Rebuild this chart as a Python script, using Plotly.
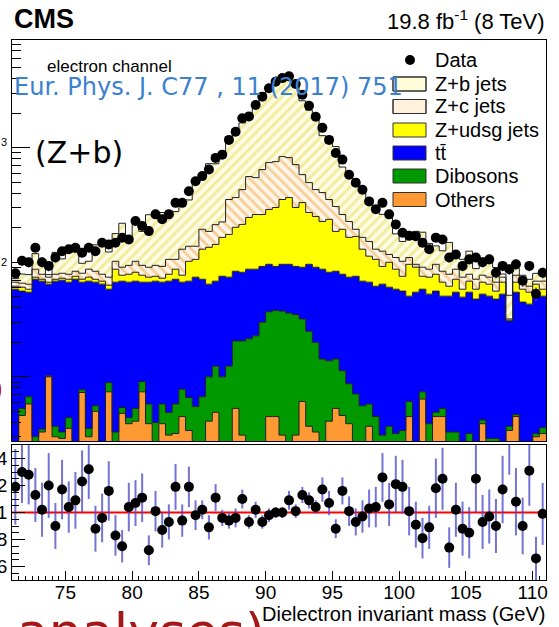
import numpy as np
import plotly.graph_objects as go

# ---------------- data ----------------
bin_low, bin_width, n_bins = 71.0, 0.5, 80

others = [0,4.6,5.8,0,3.3,10,3.0,2.9,3.55,0, 7.3,3.0,5.0,0,7.4,0,4.8,3.9,4.1,7.4,
          3.9,0,3.9,3.1,3.2,4.5,3.4,0,0,4.1, 4.9,0,0,5.3,3.1,0,0,0,4.5,4.5,
          3.1,0,3.1,6.1,3.7,3.3,0,4.1,5.3,4.6, 3.9,0,0,3.7,0,0,0,0,0,4.5,
          0,6.4,0,4.5,4.5,0,0,0,0,0, 3.9,0,0,0,3.4,4.5,0,0,3.0,3.2]
dibosons = [0,0.7,0.9,3.0,0.2,0.2,0.7,0.4,0.85,0, 0.4,0.55,0.6,0,1.5,3.3,0.6,0.5,1.2,1.7,
            1.9,4.0,1.9,1.8,2.6,3.3,3.2,5.5,6.7,5.9, 7.5,10,12.4,15.3,17.5,21.5,22.8,30,32.5,33.5,
            34.4,36,31.9,25.9,21.3,16.7,14.3,9.7,9.0,6.7, 4.8,7.1,5.6,2.1,4.5,3.1,3.7,3.2,3.4,1.6,
            0,1.0,3.9,0.4,0.8,3.3,3.3,0,3.2,0, 0.3,2.9,2.9,0,0.3,0.2,0,0,0.2,0.4]
ttbar = [58.2,50.7,48.1,68.1,64.9,54.2,64.7,66.4,62.6,71.1, 59.3,64.9,61.4,64.4,49.3,63.7,63.0,62.6,63.1,57.9,
         61.2,64.4,61.2,63.5,65.3,59.2,61.8,68.6,64.4,54.4, 56.0,65.5,61.7,62.9,61.2,65.5,64.2,62.0,59.0,54.0,
         58.5,60.0,57.0,58.5,71.0,70.5,72.7,68.0,69.2,67.3, 65.4,68.4,62.8,61.2,57.3,61.3,56.9,55.0,52.6,44.5,
         54.8,50.8,48.8,51.1,45.3,47.3,51.5,49.6,51.6,47.7, 48.5,47.7,44.8,52.7,27.0,50.1,44.9,43.1,49.5,47.0]
z_udsg = [3.6,4.6,3.4,3.0,2.7,2.6,2.7,2.9,4.1,4.4, 4.1,5.7,4.1,4.0,4.9,20,8.7,11.6,13.4,10.1,
          7.1,7.1,5.6,10.2,15.9,10.1,33.6,31.9,58.9,70.6, 74.6,89.5,100.9,118.5,132.2,159,174,169,193,209,
          257,271,209,241.5,176,160.5,140,155.2,102.5,115.4, 90.9,92.5,61.6,46,44.2,27.6,39.4,28.8,19.5,45.4,
          35.7,17.3,21.4,22.6,16.4,11.2,16.3,8.6,13.6,10.5, 14.3,13.8,8.3,14.3,0.5,12.2,13.3,11.7,11.7,7.6]
z_c = [5.2,5.1,6.2,12.9,7.5,7.1,7.5,7.6,7.5,8.0, 9.1,12.9,12.4,10.2,11.0,15,13.4,15.4,20.2,16.9,
       16.4,18.5,19.4,27.4,19,52.9,36,32,64,51, 70,60,178,165,217,314,287,383,452,455,
       483,452,411,250,224,180,179,116,121,67, 62,26,35,39,24,33,17,23,26.5,14,
       5.5,15,12.9,17.4,16.5,16.8,15.9,15.9,10.2,12.9, 10.1,9.7,11,7.1,0.8,10.1,8.8,7,4,10.2]
z_b = [5,13.3,13.6,32,19.4,3.9,43.4,26.8,46.4,39.5, 17.8,15,58.5,75.4,48.9,76,128.5,58,112,92,
       169.5,165,180,176,171,221,212,382,360,539, 511,692,892,1071,1214,1451,1766,2356,2626,3014,
       3214,3034,2852,1984,1632,1357,868,740,716,417, 347,338,278,178,149,137,130,67,50,58,
       90,92.5,59,43,42.5,70.4,28,32,46.4,16.9, 30.9,35,23,4.9,19.5,11.9,10,9.2,11.6,13.6]
data = [80,103,100,134,100,93,110,125,130,134, 121,134,125,148,143,148,164,158,229,207,
        187,262,237,262,330,330,417,510,565,645, 815,870,1170,1380,1810,1870,2360,2790,3300,3770,
        4050,4200,3600,2900,2320,1860,1490,1170,900,787, 580,495,430,340,290,330,262,214,181,170,
        169,148,130,164,158,110,117,93,106,110, 100,106,81,93,87,96,69,93,53,81]
ratio = [1.19,1.30,1.28,1.13,1.02,1.20,0.90,1.17,1.04,1.09, 1.23,1.32,0.88,0.96,1.16,0.83,0.75,1.04,1.07,1.11,
         0.72,1.01,0.87,0.93,1.19,0.94,1.19,0.98,1.02,0.89, 1.11,0.96,0.94,0.96,1.10,0.93,1.02,0.93,0.98,1.00,
         1.00,1.09,1.01,1.13,1.09,1.04,1.17,1.07,0.88,1.16, 1.01,0.93,0.97,1.03,1.04,1.26,1.06,1.21,1.19,1.01,
         0.91,0.81,0.89,1.18,1.25,0.74,1.02,0.88,0.85,1.25, 0.93,0.97,0.90,1.17,1.70,1.08,0.90,1.31,0.66,0.99]
ratio_err = [0.28,0.23,0.22,0.20,0.20,0.24,0.17,0.22,0.19,0.21, 0.23,0.22,0.17,0.18,0.22,0.15,0.12,0.18,0.17,0.18,
             0.11,0.15,0.13,0.13,0.17,0.12,0.15,0.11,0.07,0.09, 0.10,0.06,0.06,0.07,0.07,0.05,0.06,0.05,0.05,0.04,
             0.04,0.07,0.05,0.06,0.06,0.05,0.09,0.09,0.07,0.10, 0.11,0.10,0.12,0.14,0.15,0.18,0.16,0.21,0.20,0.18,
             0.17,0.15,0.16,0.22,0.23,0.15,0.20,0.20,0.19,0.25, 0.20,0.20,0.20,0.25,0.42,0.25,0.21,0.26,0.16,0.23]
x_ticks = [75, 80, 85, 90, 95, 100, 105, 110]
ratio_ticks = [0.6, 0.8, 1.0, 1.2, 1.4]
ratio_ticktext = ["0.6", "0.8", "1", "1.2", "1.4"]

# ---------------- derived ----------------
edges = bin_low + bin_width * np.arange(n_bins + 1)
centers = edges[:-1] + bin_width / 2
data_a = np.array(data, float)

W, H = 559, 627
ML, MR, MT, MB = 12, 13, 40, 47
PW, PH = W - ML - MR, H - MT - MB

def px(x):
    return (x - ML) / PW

def py(y):
    return (H - MB - y) / PH

fig = go.Figure()

def step(vals):
    v = np.maximum(np.asarray(vals, float), 1.0)
    return np.append(v, v[-1])

# invisible base
fig.add_trace(go.Scatter(x=edges, y=step(np.ones(n_bins)), mode="lines", line=dict(width=0, shape="hv"),
                         hoverinfo="skip", xaxis="x", yaxis="y"))

layers = [
    (others, "#ff9933", None),
    (dibosons, "#009900", None),
    (ttbar, "#0000ff", None),
    (z_udsg, "#ffff00", None),
    (z_c, "white", dict(shape="\\", fgcolor="#eea445", bgcolor="#fff6e8", size=7, solidity=0.4)),
    (z_b, "white", dict(shape="/", fgcolor="#e6dc55", bgcolor="#fffde8", size=7, solidity=0.45)),
]
cum = np.zeros(n_bins)
for vals, col, pat in layers:
    cum = cum + np.asarray(vals, float)
    kw = dict(fill="tonexty", fillcolor=col)
    if pat is not None:
        kw["fillpattern"] = pat
    fig.add_trace(go.Scatter(x=edges, y=step(cum), mode="lines",
                             line=dict(color="#202020", width=1, shape="hv"),
                             hoverinfo="skip", xaxis="x", yaxis="y", **kw))

# data points in main panel
fig.add_trace(go.Scatter(x=centers, y=data_a, mode="markers",
                         marker=dict(color="black", size=10),
                         error_y=dict(type="data", array=np.sqrt(data_a), color="rgba(70,70,200,0.8)",
                                      thickness=1.5, width=0),
                         xaxis="x", yaxis="y"))

# ratio panel
fig.add_trace(go.Scatter(x=[bin_low, edges[-1]], y=[1, 1], mode="lines",
                         line=dict(color="#ff0000", width=2), xaxis="x2", yaxis="y2"))
fig.add_trace(go.Scatter(x=centers, y=ratio, mode="markers",
                         marker=dict(color="black", size=10),
                         error_y=dict(type="data", array=ratio_err, color="rgba(70,70,200,0.75)",
                                      thickness=2, width=0),
                         xaxis="x2", yaxis="y2"))

main_bottom = py(441)
log_minor = [k * 10 ** e for e in range(0, 4) for k in range(2, 10)]

fig.update_layout(
    width=W, height=H, margin=dict(l=ML, r=MR, t=MT, b=MB),
    paper_bgcolor="white", plot_bgcolor="white", showlegend=False,
    font=dict(family="Liberation Sans, Arial", color="black"),
    xaxis=dict(domain=[0, 1], range=[bin_low, edges[-1]], anchor="y", showticklabels=False,
               ticks="", showline=True, mirror=True, linecolor="black", linewidth=1,
               showgrid=False, zeroline=False, automargin=False),
    yaxis=dict(domain=[main_bottom, 1], type="log", range=[0.44, 3.94], anchor="x",
               tickvals=[10, 100, 1000], showticklabels=False, ticks="inside", ticklen=18,
               tickcolor="black", tickwidth=1,
               minor=dict(ticks="inside", ticklen=9, tickvals=log_minor, tickcolor="black", showgrid=False),
               showline=True, mirror=True, linecolor="black", linewidth=1, showgrid=False, zeroline=False,
               automargin=False),
    xaxis2=dict(domain=[0, 1], range=[bin_low, edges[-1]], anchor="y2", tickvals=x_ticks,
                ticks="inside", ticklen=9, tickcolor="black",
                minor=dict(ticks="inside", ticklen=4, dtick=0.5, tickcolor="black", showgrid=False),
                tickfont=dict(size=19), showline=True, mirror=True, linecolor="black", linewidth=1,
                showgrid=False, zeroline=False, automargin=False),
    yaxis2=dict(domain=[0, py(445)], range=[0.5, 1.5], anchor="x2", tickvals=ratio_ticks,
                ticktext=ratio_ticktext, ticks="inside", ticklen=13, tickcolor="black",
                minor=dict(ticks="inside", ticklen=7, dtick=0.05, tickcolor="black", showgrid=False),
                tickfont=dict(size=19), showline=True, mirror=True, linecolor="black", linewidth=1,
                showgrid=False, zeroline=False, automargin=False),
)
try:
    fig.update_layout(xaxis2=dict(ticklabelstandoff=-5))
except Exception:
    pass

ann = []
def text(x, y, s, size, color="black", family="Liberation Sans, Arial", xanchor="left", yanchor="middle"):
    ann.append(dict(x=px(x), y=py(y), xref="paper", yref="paper", text=s, showarrow=False,
                    xanchor=xanchor, yanchor=yanchor, font=dict(size=size, color=color, family=family)))

text(12, 19, "<b>CMS</b>", 27)
text(547, 20, "19.8 fb<sup>-1</sup> (8 TeV)", 22, xanchor="right")
text(45, 66, "electron channel", 17)
text(9, 142, "3", 11, xanchor="right")
text(9, 262, "2", 11, xanchor="right")
text(5, 388, ")", 26, color="#b01010", xanchor="right")
text(547, 614, "Dielectron invariant mass (GeV)", 20, xanchor="right")

# legend
shapes = []
legend_rows = [("Data", 60), ("Z+b jets", 84), ("Z+c jets", 106.5), ("Z+udsg jets", 130),
               ("tt\u0304", 153), ("Dibosons", 176), ("Others", 199.5)]
bx0, bx1, bh = 393, 426, 14
for name, yc in legend_rows:
    text(433, yc, name, 20)
def rect(y, fill):
    shapes.append(dict(type="rect", xref="paper", yref="paper", x0=px(bx0), x1=px(bx1),
                       y0=py(y + bh / 2), y1=py(y - bh / 2), fillcolor=fill,
                       line=dict(color="#303030", width=1)))
def hatch(y, direction, color):
    y0, y1 = y - bh / 2, y + bh / 2
    segs = []
    for c in np.arange(bx0 - 40, bx1 + 40, 4.5):
        if direction == "/":
            xs, xe = max(bx0, c - y1), min(bx1, c - y0)
            if xs < xe:
                segs.append(f"M{px(xs)},{py(c - xs)} L{px(xe)},{py(c - xe)}")
        else:
            xs, xe = max(bx0, y0 + c), min(bx1, y1 + c)
            if xs < xe:
                segs.append(f"M{px(xs)},{py(xs - c)} L{px(xe)},{py(xe - c)}")
    shapes.append(dict(type="path", xref="paper", yref="paper", path=" ".join(segs),
                       line=dict(color=color, width=1.4)))
rect(84, "#fffcd8"); hatch(84, "/", "#e2d64a")
shapes.append(dict(type="rect", xref="paper", yref="paper", x0=px(bx0), x1=px(bx1),
                   y0=py(84 + bh / 2), y1=py(84 - bh / 2), line=dict(color="#303030", width=1)))
rect(106.5, "#fff1dc"); hatch(106.5, "\\", "#eea040")
shapes.append(dict(type="rect", xref="paper", yref="paper", x0=px(bx0), x1=px(bx1),
                   y0=py(106.5 + bh / 2), y1=py(106.5 - bh / 2), line=dict(color="#303030", width=1)))
rect(130, "#ffff00")
rect(153, "#0000ff")
rect(176, "#009900")
rect(199.5, "#ff9933")
shapes.append(dict(type="circle", xref="paper", yref="paper", x0=px(405), x1=px(415),
                   y0=py(65), y1=py(55), fillcolor="black", line=dict(color="black", width=0)))

# overlays
text(12, 87, "Eur. Phys. J. C77 , 11 (2017) 751", 24, color="#3a80d0", family="DejaVu Sans")
text(33, 152, "(Z+b)", 30, family="DejaVu Sans")
text(15, 632, "analyses)", 52, color="#a31818", family="DejaVu Sans")

fig.update_layout(annotations=ann, shapes=shapes)
fig.write_html("out.html")
